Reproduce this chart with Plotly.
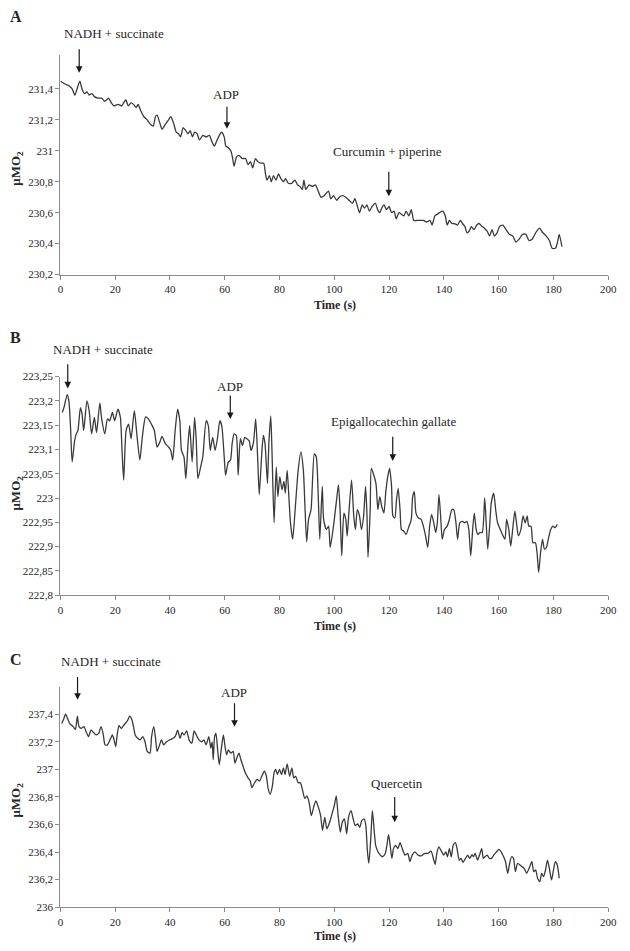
import plotly.graph_objects as go

# ---------------- data ----------------
A_TIME = [0.1,1.9,3.1,4.3,5.3,6.1,7.1,7.9,8.8,9.7,10.5,11.5,12.4,13.8,15.0,16.2,17.6,18.6,19.6,21.0,22.4,23.1,23.9,24.8,25.8,26.7,27.6,28.4,29.3,30.5,31.7,32.9,33.9,34.7,35.3,36.3,37.1,38.3,39.5,40.3,41.3,42.3,43.1,43.9,44.8,45.8,46.6,47.4,48.2,49.0,49.9,50.8,52.0,53.2,54.4,55.3,56.2,57.0,58.0,58.9,59.8,60.4,61.3,62.2,62.8,63.4,64.3,65.2,66.4,67.6,68.5,69.4,70.2,71.2,72.1,73.0,74.2,74.8,75.4,76.3,77.0,77.8,78.7,79.6,80.5,81.4,82.2,83.2,84.4,85.6,86.6,87.4,88.3,88.9,89.6,90.8,92.0,93.1,93.9,95.1,96.3,97.9,98.7,99.7,100.9,101.8,103.0,104.2,105.4,106.6,107.5,108.3,109.2,110.2,111.0,111.9,112.8,113.8,115.0,115.8,116.6,117.3,118.2,119.0,120.0,120.9,121.8,122.6,123.6,124.5,125.4,126.2,127.2,128.1,129.0,130.2,131.3,132.5,133.7,134.9,135.7,136.7,137.6,138.4,139.6,140.5,141.2,142.0,142.9,143.8,145.0,146.0,146.8,147.7,148.4,149.2,150.0,151.0,152.0,152.8,154.0,154.8,155.8,156.7,157.6,158.4,159.4,160.3,161.5,162.7,163.9,165.1,166.3,167.5,168.7,169.9,171.1,172.3,173.5,174.9,176.1,177.3,178.5,179.5,180.7,181.5,182.1,183.1]
A_VALUE = [231.45,231.43,231.42,231.40,231.36,231.40,231.45,231.40,231.37,231.38,231.36,231.37,231.35,231.34,231.34,231.32,231.34,231.31,231.29,231.30,231.29,231.31,231.33,231.29,231.31,231.30,231.28,231.30,231.26,231.22,231.20,231.17,231.16,231.22,231.23,231.18,231.14,231.17,231.20,231.22,231.18,231.12,231.11,231.09,231.15,231.13,231.11,231.13,231.09,231.12,231.11,231.07,231.10,231.09,231.10,231.06,231.03,231.06,231.10,231.12,231.09,231.03,231.02,231.00,230.96,230.90,230.96,230.97,230.95,230.95,230.91,230.93,230.89,230.95,230.93,230.92,230.92,230.86,230.81,230.84,230.80,230.84,230.81,230.85,230.82,230.80,230.82,230.79,230.79,230.81,230.78,230.77,230.75,230.81,230.75,230.78,230.77,230.78,230.75,230.70,230.71,230.74,230.69,230.71,230.68,230.70,230.71,230.70,230.68,230.66,230.69,230.65,230.60,230.65,230.63,230.65,230.61,230.64,230.66,230.62,230.60,230.63,230.65,230.62,230.64,230.60,230.61,230.56,230.60,230.59,230.58,230.61,230.58,230.62,230.55,230.55,230.55,230.55,230.54,230.55,230.52,230.58,230.59,230.60,230.61,230.58,230.52,230.55,230.53,230.53,230.52,230.55,230.53,230.51,230.47,230.48,230.51,230.49,230.52,230.53,230.51,230.50,230.48,230.45,230.49,230.45,230.47,230.51,230.52,230.49,230.46,230.45,230.41,230.43,230.46,230.46,230.42,230.43,230.47,230.50,230.47,230.45,230.42,230.37,230.37,230.41,230.46,230.38]

B_TIME = [0.7,1.3,2.5,3.1,3.7,4.3,5.2,5.8,6.4,7.3,7.9,8.5,9.7,10.5,11.4,12.4,13.2,14.4,15.0,16.2,17.2,18.0,19.0,19.8,21.0,21.9,22.5,23.1,24.0,24.9,25.8,27.0,27.9,29.0,29.9,31.1,32.1,33.5,34.3,35.3,36.3,37.1,38.3,39.5,40.3,41.0,41.9,42.8,43.6,44.2,45.1,45.8,46.6,47.2,48.1,49.0,49.6,50.2,51.2,52.0,53.2,54.0,54.7,55.6,56.5,57.4,58.2,58.9,59.8,60.3,61.3,62.1,62.7,63.4,64.2,64.9,65.7,66.5,67.3,68.1,68.9,69.6,70.5,71.3,72.0,72.6,73.5,74.1,74.7,75.6,76.1,76.8,77.3,78.0,78.8,79.4,80.1,80.9,81.6,82.1,82.8,83.4,84.0,84.8,85.7,86.8,87.8,88.7,89.3,89.9,90.6,91.5,92.7,93.4,94.1,94.7,95.6,96.1,97.1,97.9,98.5,99.7,100.7,101.5,102.1,102.7,103.5,104.2,104.7,105.4,106.3,107.1,107.7,108.4,109.2,109.9,110.7,111.4,111.9,112.3,113.1,113.5,114.2,115.2,115.9,116.6,117.3,118.1,118.8,119.5,120.2,120.9,121.4,122.1,122.7,123.3,124.0,124.5,125.3,126.2,127.1,128.1,128.6,129.2,129.8,130.7,131.7,132.5,133.3,134.1,134.8,135.5,136.3,137.0,137.6,138.2,138.8,139.4,140.2,141.2,142.0,142.9,143.6,144.4,145.0,145.8,146.8,147.6,148.4,149.1,149.8,150.5,151.1,151.8,152.4,153.1,154.0,154.9,155.5,156.0,156.7,157.3,158.2,158.9,159.6,160.6,161.6,162.3,162.9,163.7,164.4,165.1,165.9,166.5,167.2,168.1,168.9,169.7,170.4,171.0,171.8,172.5,173.4,174.0,174.6,175.3,176.0,176.7,177.4,178.1,179.0,179.8,180.6,181.4]
B_VALUE = [223.176,223.186,223.213,223.200,223.146,223.074,223.118,223.132,223.139,223.186,223.173,223.139,223.200,223.180,223.132,223.166,223.135,223.196,223.166,223.132,223.163,223.159,223.176,223.159,223.183,223.166,223.098,223.037,223.139,223.152,223.122,223.180,223.132,223.078,223.125,223.167,223.163,223.149,223.139,223.105,223.115,223.127,223.112,223.105,223.098,223.078,223.139,223.183,223.159,223.098,223.085,223.040,223.112,223.149,223.074,223.166,223.118,223.040,223.064,223.085,223.159,223.149,223.098,223.125,223.098,223.125,223.159,223.149,223.085,223.047,223.074,223.078,223.112,223.132,223.129,223.047,223.122,223.108,223.125,223.122,223.118,223.098,223.115,223.163,223.085,223.007,223.091,223.129,223.112,223.030,223.112,223.169,223.085,222.949,223.064,223.003,223.044,223.017,223.034,223.010,223.057,223.003,222.949,222.915,222.976,223.057,223.095,223.057,222.980,222.910,222.956,222.976,223.091,223.085,223.010,222.915,223.024,222.956,222.935,222.942,222.898,222.942,222.990,223.027,222.976,222.881,222.969,222.956,222.922,222.976,223.037,222.963,222.935,222.976,222.963,222.935,222.963,223.024,222.969,222.878,222.976,223.061,223.051,223.030,222.976,223.003,222.983,222.969,223.013,223.044,223.061,223.024,222.963,222.959,222.996,223.020,222.976,222.935,222.932,222.925,222.939,222.956,223.003,223.013,222.969,222.959,222.956,222.942,222.922,222.898,222.942,222.966,222.949,222.929,222.949,223.007,222.963,222.915,222.935,222.942,222.956,222.976,222.976,222.949,222.915,222.949,222.952,222.949,222.952,222.935,222.881,222.935,222.969,222.935,222.925,222.929,222.929,223.000,222.942,222.895,222.942,222.990,223.010,222.976,222.949,222.935,222.922,222.915,222.956,222.935,222.901,222.935,222.973,222.949,222.922,222.935,222.963,222.949,222.963,222.942,222.942,222.908,222.908,222.888,222.847,222.888,222.915,222.895,222.898,222.915,222.935,222.942,222.939,222.946]

C_TIME = [0.5,1.1,1.9,2.6,3.5,4.7,5.5,6.2,6.8,7.6,8.6,9.4,10.3,11.2,12.2,13.0,14.0,14.8,15.6,16.3,17.2,18.1,19.0,19.6,20.2,20.8,21.4,22.2,22.9,23.7,24.6,25.3,26.1,26.7,27.3,28.2,29.1,30.1,30.9,31.7,32.7,33.3,34.1,34.8,35.3,36.0,36.9,37.7,38.7,39.9,41.1,42.0,42.8,43.7,44.4,45.2,46.1,47.0,48.0,48.8,49.6,50.6,51.6,52.4,53.2,54.2,54.9,55.4,55.8,56.3,56.8,57.4,58.0,58.7,59.5,60.1,60.7,61.3,62.2,63.1,63.7,64.6,65.2,65.9,66.7,67.5,68.5,69.3,69.9,70.9,71.8,72.7,73.5,74.5,75.2,75.9,76.6,77.4,78.0,78.6,79.2,80.0,80.7,81.4,82.0,82.8,83.7,84.5,85.2,85.9,86.8,87.6,88.4,89.2,90.0,90.8,91.6,92.5,93.3,94.2,95.0,95.7,96.5,97.3,98.3,99.3,100.0,100.7,101.4,102.2,102.9,103.7,104.5,105.2,106.1,106.9,107.6,108.5,109.3,110.0,110.9,111.5,112.1,112.6,113.3,113.9,114.5,115.1,116.0,116.8,117.6,118.6,119.2,119.8,120.4,121.0,121.6,122.4,123.2,124.0,124.8,125.8,126.8,127.6,128.4,129.4,130.6,131.8,133.0,134.1,135.3,136.3,136.8,137.5,138.2,138.9,139.9,140.7,141.3,142.0,142.7,143.4,144.2,144.9,145.6,146.3,147.0,147.9,148.7,149.4,150.3,150.8,151.4,152.3,153.0,153.8,154.4,155.0,155.8,156.6,157.4,158.2,159.2,160.1,160.9,161.8,162.5,163.3,164.0,164.7,165.4,166.1,166.9,167.8,168.5,169.3,170.2,171.2,172.1,172.8,173.5,174.2,175.0,175.7,176.4,177.1,177.8,178.5,179.3,180.0,180.7,181.4,182.1]
C_VALUE = [237.333,237.360,237.400,237.370,237.330,237.310,237.290,237.386,237.310,237.297,237.310,237.273,237.238,237.285,237.266,237.250,237.261,237.310,237.260,237.178,237.178,237.214,237.250,237.214,237.166,237.261,237.320,237.297,237.314,237.333,237.357,237.386,237.360,237.310,237.250,237.226,237.214,237.238,237.200,237.130,237.118,237.238,237.310,237.214,237.130,237.166,237.214,237.178,237.200,237.214,237.226,237.242,237.285,237.226,237.266,237.250,237.280,237.214,237.190,237.280,237.250,237.214,237.200,237.214,237.178,237.238,237.154,237.200,237.070,237.238,237.261,237.142,237.034,237.142,237.250,237.166,237.106,237.142,237.118,237.130,237.046,237.094,237.118,237.070,237.023,236.975,236.939,236.915,236.867,236.903,236.927,236.915,236.950,236.987,236.950,236.855,236.820,236.880,236.975,236.999,236.963,236.999,236.963,237.011,236.963,237.040,236.950,237.011,236.939,236.950,236.903,236.903,236.850,236.790,236.808,236.760,236.664,236.730,236.772,236.724,236.664,236.557,236.652,236.569,236.616,236.688,236.736,236.808,236.664,236.545,236.616,236.640,236.533,236.652,236.700,236.640,236.593,236.604,236.580,236.628,236.640,236.593,236.400,236.318,236.497,236.700,236.569,236.449,236.400,236.378,236.366,236.390,236.449,236.526,236.449,236.354,236.425,236.449,236.425,236.468,236.425,236.378,236.390,236.330,236.378,236.401,236.378,236.373,236.390,236.390,236.406,236.342,236.310,236.400,236.437,236.413,236.378,236.401,236.366,236.425,236.366,236.449,236.468,236.413,236.342,236.354,236.325,236.354,236.378,236.354,236.382,236.366,236.390,236.342,236.378,236.425,236.354,236.366,236.378,236.354,236.354,236.378,236.401,236.420,236.401,236.366,236.330,236.246,236.318,236.366,236.354,236.258,236.318,236.306,236.294,236.282,236.246,236.287,236.330,236.258,236.270,236.210,236.186,236.246,236.222,236.270,236.342,236.282,236.198,236.270,236.330,236.306,236.210]

X_TICKS = [0, 20, 40, 60, 80, 100, 120, 140, 160, 180, 200]
X_TICK_LABELS = ["0", "20", "40", "60", "80", "100", "120", "140", "160", "180", "200"]

A_Y_TICKS = [230.2, 230.4, 230.6, 230.8, 231.0, 231.2, 231.4]
A_Y_LABELS = ["230,2", "230,4", "230,6", "230,8", "231", "231,2", "231,4"]
B_Y_TICKS = [222.8, 222.85, 222.9, 222.95, 223.0, 223.05, 223.1, 223.15, 223.2, 223.25]
B_Y_LABELS = ["222,8", "222,85", "222,9", "222,95", "223", "223,05", "223,1", "223,15", "223,2", "223,25"]
C_Y_TICKS = [236.0, 236.2, 236.4, 236.6, 236.8, 237.0, 237.2, 237.4]
C_Y_LABELS = ["236", "236,2", "236,4", "236,6", "236,8", "237", "237,2", "237,4"]

# ---------------- layout helpers ----------------
W, H = 630, 951
def px(x):
    return x / W
def py(y):
    return 1 - y / H

SERIF = "Liberation Serif, Times New Roman, serif"
AXIS_COLOR = "#8a8a8a"
TEXT_COLOR = "#262626"
LINE_COLOR = "#3a3a3a"

XDOM = [px(58.5), px(617)]

def xaxis(anchor):
    return dict(domain=XDOM, anchor=anchor, range=[0, 200], tickvals=X_TICKS, ticktext=X_TICK_LABELS,
                showline=True, linecolor=AXIS_COLOR, linewidth=1.3, ticks="outside", ticklen=4,
                tickcolor=AXIS_COLOR, tickwidth=1, showgrid=False, zeroline=False,
                tickfont=dict(family=SERIF, size=11, color=TEXT_COLOR))

def yaxis(anchor, dom, rng, tv, tt):
    return dict(domain=dom, anchor=anchor, range=rng, tickvals=tv, ticktext=tt,
                showline=True, linecolor=AXIS_COLOR, linewidth=1.3, ticks="outside", ticklen=4,
                tickcolor=AXIS_COLOR, tickwidth=1, showgrid=False, zeroline=False,
                tickfont=dict(family=SERIF, size=11, color=TEXT_COLOR))

fig = go.Figure()
for t, v, xa, ya in [(A_TIME, A_VALUE, "x", "y"), (B_TIME, B_VALUE, "x2", "y2"), (C_TIME, C_VALUE, "x3", "y3")]:
    fig.add_trace(go.Scatter(x=t, y=v, xaxis=xa, yaxis=ya, mode="lines",
                             line=dict(color=LINE_COLOR, width=1.3, shape="spline", smoothing=0.6),
                             showlegend=False, hoverinfo="skip"))

annotations = []
def text(x, y, s, size=13, bold=False, angle=0):
    if bold:
        s = "<b>" + s + "</b>"
    annotations.append(dict(x=px(x), y=py(y), xref="paper", yref="paper", text=s, showarrow=False,
                            xanchor="center", yanchor="middle", textangle=angle,
                            font=dict(family=SERIF, size=size, color=TEXT_COLOR)))

def arrow(x, y_tail, y_head):
    annotations.append(dict(x=px(x), y=py(y_head), xref="paper", yref="paper", text="", showarrow=True,
                            ax=0, ay=y_tail - y_head, axref="pixel", ayref="pixel",
                            arrowhead=2, arrowsize=1.1, arrowwidth=1.2, arrowcolor="#1a1a1a", standoff=0))

# panel labels
text(13, 11, "A", size=16, bold=True)
text(13, 336, "B", size=16, bold=True)
text(13, 662, "C", size=16, bold=True)

# axis titles
for yt, yy in [(303, 164), (628, 493), (942, 804)]:
    text(338, yt, "Time (s)", size=12, bold=True)
    text(14, yy, "μMO<sub>2</sub>", size=13, bold=True, angle=-90)

# event markers: panel A
text(113.5, 27.5, "NADH + succinate")
arrow(77.7, 42.7, 67.7)
text(227, 89.5, "ADP")
arrow(228.3, 100.7, 124.3)
text(392, 147.5, "Curcumin + piperine")
arrow(393.3, 166.7, 192.7)
# panel B
text(102, 347.5, "NADH + succinate")
arrow(66, 361.7, 387.3)
text(231, 385, "ADP")
arrow(231.7, 393.3, 418.3)
text(398, 420.8, "Epigallocatechin gallate")
arrow(397.3, 435, 460.7)
# panel C
text(110, 663.7, "NADH + succinate")
arrow(76, 678.3, 702.7)
text(235, 695, "ADP")
arrow(236, 705, 730)
text(401.7, 787.5, "Quercetin")
arrow(399.3, 800, 826.7)

fig.update_layout(
    width=W, height=H, margin=dict(l=0, r=0, t=0, b=0),
    paper_bgcolor="white", plot_bgcolor="white",
    xaxis=xaxis("y"),
    yaxis=yaxis("x", [py(272), py(49.5)], [230.2, 231.62], A_Y_TICKS, A_Y_LABELS),
    xaxis2=xaxis("y2"),
    yaxis2=yaxis("x2", [py(596.7), py(375.3)], [222.8, 223.25], B_Y_TICKS, B_Y_LABELS),
    xaxis3=xaxis("y3"),
    yaxis3=yaxis("x3", [py(912.7), py(689.4)], [236.0, 237.6], C_Y_TICKS, C_Y_LABELS),
    annotations=annotations,
)

# remove the browser's default page margin so the figure sits at the window's origin
fig.write_html("out.html", config={"displayModeBar": False, "staticPlot": True},
               post_script="document.body.style.margin='0';document.body.style.overflow='hidden';")
